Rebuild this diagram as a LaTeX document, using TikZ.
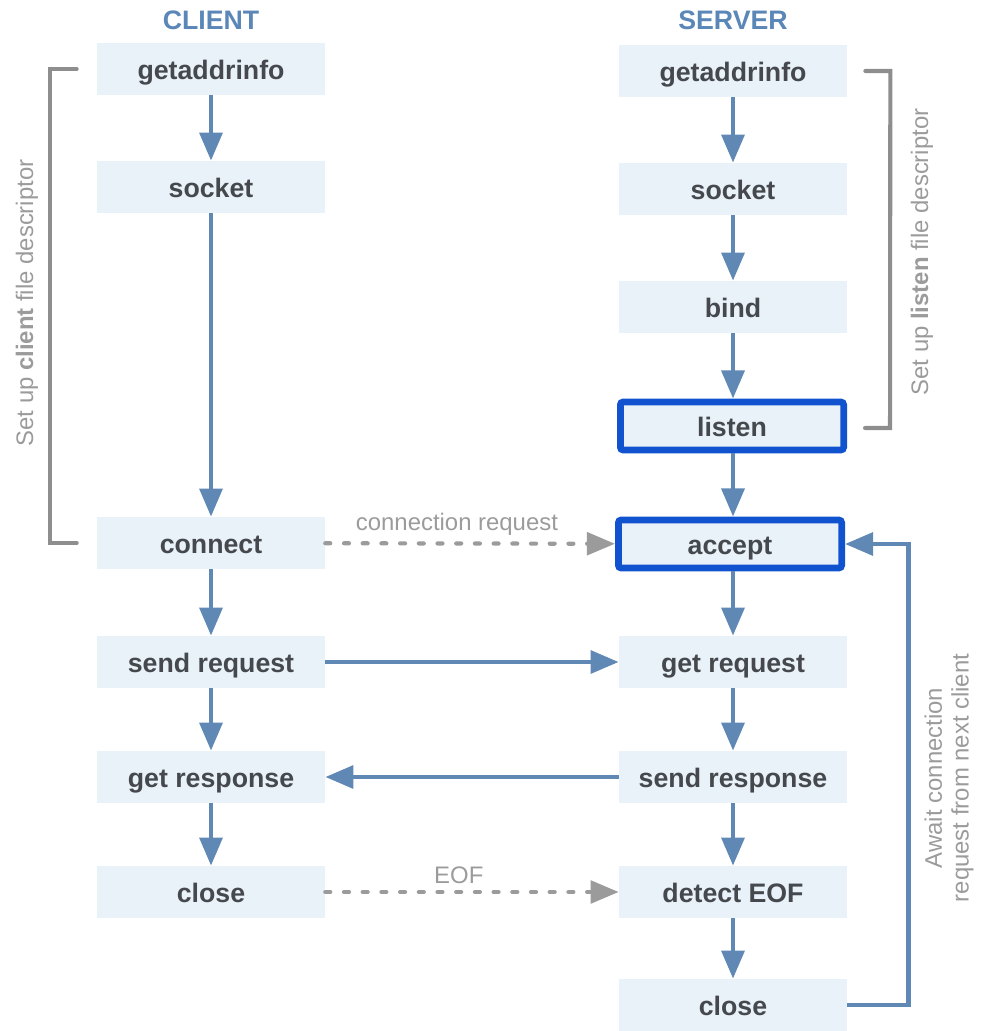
\documentclass[tikz,border=0pt]{standalone}
\usepackage{fontspec}
\setmainfont{Liberation Sans}
\usepackage{xcolor}
\usepackage{tikz}
\usetikzlibrary{positioning,arrows.meta}
\definecolor{flowblue}{HTML}{5F89B4}
\definecolor{headblue}{HTML}{5B87B8}
\definecolor{boxfill}{HTML}{E9F2F9}
\definecolor{boxtext}{HTML}{45484D}
\definecolor{hiblue}{HTML}{1153CE}
\definecolor{notegray}{HTML}{9B9B9B}
\definecolor{bracketgray}{HTML}{8E8E8E}

\begin{document}
\begin{tikzpicture}[
    x=0.025cm, y=-0.025cm,
    box/.style={fill=boxfill, minimum width=5.7cm, minimum height=1.3cm, inner sep=0pt,
        text height=15pt, text depth=0pt, text=boxtext, font=\fontsize{19}{22}\selectfont\bfseries},
    hilite/.style={box, draw=hiblue, line width=4.8pt, rounded corners=2pt,
        minimum width=5.58cm, minimum height=1.2cm},
    head/.style={text=headblue, font=\fontsize{19}{22}\selectfont\bfseries},
    note/.style={text=notegray, font=\fontsize{17}{20}\selectfont},
    flow/.style={draw=flowblue, line width=3.4pt, -{Triangle[length=20pt, width=16pt]}},
    dashflow/.style={draw=notegray, line width=3pt, line cap=round, dash pattern=on 3.5pt off 9.8pt,
        -{Triangle[length=20pt, width=16pt, line cap=butt]}},
    bracket/.style={draw=bracketgray, line width=2.9pt, line cap=round}
]
\useasboundingbox (0,0) rectangle (985,1031);

\node[head] (client) at (211,20) {CLIENT};
\node[head] (server) at (733,20) {SERVER};

\node[box] (cgetaddr) at (211,69) {getaddrinfo};
\node[box] (csocket) at (211,187) {socket};
\node[box] (cconnect) at (211,543) {connect};
\node[box] (csend) at (211,662) {send request};
\node[box] (cget) at (211,777) {get response};
\node[box] (cclose) at (211,892) {close};

\node[box] (sgetaddr) at (733,71) {getaddrinfo};
\node[box] (ssocket) at (733,189) {socket};
\node[box] (sbind) at (733,307) {bind};
\node[hilite] (slisten) at (732,426) {listen};
\node[hilite] (saccept) at (730,544) {accept};
\node[box] (sgetreq) at (733,662) {get request};
\node[box] (ssend) at (733,777) {send response};
\node[box] (sdetect) at (733,892) {detect EOF};
\node[box] (sclose) at (733,1005) {close};

\draw[flow] (cgetaddr) -- (csocket);
\draw[flow] (csocket) -- (cconnect);
\draw[flow] (cconnect) -- (csend);
\draw[flow] (csend) -- (cget);
\draw[flow] (cget) -- (cclose);

\draw[flow] (sgetaddr) -- (ssocket);
\draw[flow] (ssocket) -- (sbind);
\draw[flow] (sbind.south) -- (sbind |- slisten.north);
\draw[flow] (slisten.south -| sbind) -- (sbind |- saccept.north);
\draw[flow] (saccept.south -| sgetreq) -- (sgetreq);
\draw[flow] (sgetreq) -- (ssend);
\draw[flow] (ssend) -- (sdetect);
\draw[flow] (sdetect) -- (sclose);

\draw[flow] (csend) -- (sgetreq);
\draw[flow] (ssend) -- (cget);
\draw[dashflow] (cconnect) -- node[note, above=1pt, xshift=-0.33cm] {connection request} (saccept);
\draw[dashflow] (cclose) -- node[note, above=1pt, xshift=-0.33cm] {EOF} (sdetect);
\draw[flow] (sclose.east) -- ++(61,0) |- (saccept.east);

\draw[bracket] ([xshift=-0.5cm]cgetaddr.west) -- ([xshift=-1.175cm]cgetaddr.west)
    -- ([xshift=-1.175cm]cconnect.west) -- ([xshift=-0.5cm]cconnect.west);
\draw[bracket] ([xshift=0.45cm]sgetaddr.east) -- ([xshift=1.075cm]sgetaddr.east)
    -- ([xshift=1.075cm,yshift=-0.05cm]slisten.east) -- ([xshift=0.45cm,yshift=-0.05cm]slisten.east);

\node[note, rotate=90] (cnote) at (27,303) {Set up \textbf{client} file descriptor};
\node[note, rotate=90] (snote) at (922,252) {Set up \textbf{listen} file descriptor};
\node[note, rotate=90, align=center, font=\fontsize{17}{19}\selectfont] (loopnote) at (949,778)
    {Await connection\\request from next client};
\end{tikzpicture}
\end{document}
